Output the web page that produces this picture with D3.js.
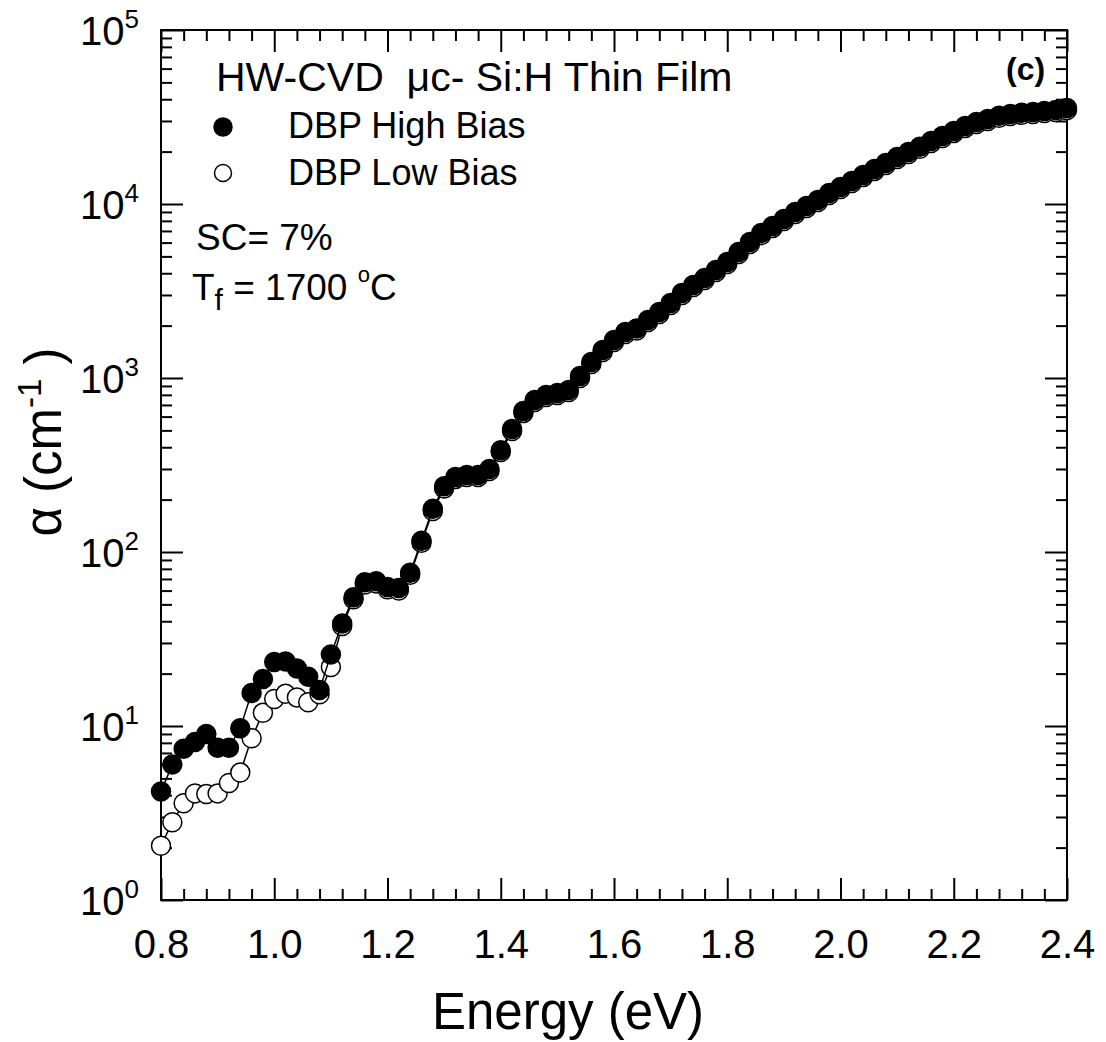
<!DOCTYPE html>
<html>
<head>
<meta charset="utf-8">
<script src="https://cdn.jsdelivr.net/npm/d3@7"></script>
<style>
  html, body { margin: 0; padding: 0; background: #fff; }
  svg { display: block; font-family: "Liberation Sans", Arial, Helvetica, sans-serif; }
</style>
</head>
<body>
<svg id="chart" width="1106" height="1042"></svg>
<script>
// ---- Data ----
const energy = [0.80,0.82,0.84,0.86,0.88,0.90,0.92,0.94,0.96,0.98,
  1.00,1.02,1.04,1.06,1.08,1.10,1.12,1.14,1.16,1.18,
  1.20,1.22,1.24,1.26,1.28,1.30,1.32,1.34,1.36,1.38,
  1.40,1.42,1.44,1.46,1.48,1.50,1.52,1.54,1.56,1.58,
  1.60,1.62,1.64,1.66,1.68,1.70,1.72,1.74,1.76,1.78,
  1.80,1.82,1.84,1.86,1.88,1.90,1.92,1.94,1.96,1.98,
  2.00,2.02,2.04,2.06,2.08,2.10,2.12,2.14,2.16,2.18,
  2.20,2.22,2.24,2.26,2.28,2.30,2.32,2.34,2.36,2.38,2.40];

const highBias = [4.2,6.0,7.4,8.1,9.0,7.5,7.5,9.7,15.5,18.6,
  23.3,23.5,21.4,19.2,16.1,25.8,38.8,55,67,68,
  63,62,76,116,177,239,270,277,277,300,
  385,509,646,747,799,820,853,1026,1236,1449,
  1653,1837,1925,2153,2394,2697,3080,3422,3756,4177,
  4645,5300,6050,6810,7480,8200,8990,9740,10540,11570,
  12520,13560,14690,15900,17200,18600,19900,21300,23000,24600,
  26300,28100,29600,30800,32100,32900,33400,33800,34200,34700,35600];

const lowBias = [2.05,2.8,3.6,4.1,4.06,4.1,4.7,5.4,8.5,11.9,
  14.3,15.3,14.6,13.7,15.2,21.8,37.5,53.5,65,66,
  61,60,74,113,172,232,263,270,270,292,
  375,496,630,728,778,799,831,1000,1204,1411,
  1610,1789,1875,2097,2332,2627,3000,3333,3658,4068,
  4524,5162,5893,6633,7286,7987,8756,9487,10270,11270,
  12190,13210,14310,15490,16750,18120,19380,20750,22400,23960,
  25620,27370,28830,30000,31270,32040,32530,32920,33310,33800,34670];

const xTickLabels = ["0.8","1.0","1.2","1.4","1.6","1.8","2.0","2.2","2.4"];
const xMajor = [0.8,1.0,1.2,1.4,1.6,1.8,2.0,2.2,2.4];
const yExponents = [0,1,2,3,4,5];
const seriesNames = ["DBP High Bias","DBP Low Bias"];

// ---- Layout ----
const L = 161, R = 1067, T = 30, B = 900;
const svg = d3.select("#chart");

const x = d3.scaleLinear().domain([0.8, 2.4]).range([L, R]);
const y = d3.scaleLog().domain([1, 1e5]).range([B, T]);

const xMinor = d3.range(0, 41).map(i => +(0.8 + i * 0.04).toFixed(2))
  .filter(v => xMajor.indexOf(v) < 0);
const yMajor = yExponents.map(e => Math.pow(10, e));
const yMinor = [];
for (let e = 0; e < 5; e++) for (let m = 2; m <= 9; m++) yMinor.push(m * Math.pow(10, e));

function styleAxis(g) {
  g.select(".domain").remove();
  g.selectAll(".tick line").attr("stroke", "#000").attr("stroke-width", 2);
}

// bottom axis
const gxb = svg.append("g").attr("transform", `translate(0,${B})`)
  .call(d3.axisBottom(x).tickValues(xMajor).tickSizeInner(-22).tickSizeOuter(0)
    .tickFormat((d, i) => xTickLabels[i]));
styleAxis(gxb);
gxb.selectAll(".tick text").attr("y", 58).attr("dy", 0)
  .attr("font-size", 40).attr("fill", "#000")
  .attr("font-family", "'Liberation Sans', Arial, sans-serif");
const gxbm = svg.append("g").attr("transform", `translate(0,${B})`)
  .call(d3.axisBottom(x).tickValues(xMinor).tickSizeInner(-11).tickSizeOuter(0).tickFormat(""));
styleAxis(gxbm);

// top axis
const gxt = svg.append("g").attr("transform", `translate(0,${T})`)
  .call(d3.axisTop(x).tickValues(xMajor).tickSizeInner(-22).tickSizeOuter(0).tickFormat(""));
styleAxis(gxt);
const gxtm = svg.append("g").attr("transform", `translate(0,${T})`)
  .call(d3.axisTop(x).tickValues(xMinor).tickSizeInner(-11).tickSizeOuter(0).tickFormat(""));
styleAxis(gxtm);

// left axis
const gyl = svg.append("g").attr("transform", `translate(${L},0)`)
  .call(d3.axisLeft(y).tickValues(yMajor).tickSizeInner(-22).tickSizeOuter(0).tickFormat(""));
styleAxis(gyl);
gyl.selectAll(".tick").each(function(d, i) {
  const t = d3.select(this).append("text")
    .attr("x", -22).attr("y", 14).attr("text-anchor", "end")
    .attr("fill", "#000").attr("font-size", 40)
    .attr("font-family", "'Liberation Sans', Arial, sans-serif");
  t.append("tspan").text("10");
  t.append("tspan").attr("dy", -17).attr("font-size", 26).text(String(yExponents[i]));
});
const gylm = svg.append("g").attr("transform", `translate(${L},0)`)
  .call(d3.axisLeft(y).tickValues(yMinor).tickSizeInner(-11).tickSizeOuter(0).tickFormat(""));
styleAxis(gylm);

// right axis
const gyr = svg.append("g").attr("transform", `translate(${R},0)`)
  .call(d3.axisRight(y).tickValues(yMajor).tickSizeInner(-22).tickSizeOuter(0).tickFormat(""));
styleAxis(gyr);
const gyrm = svg.append("g").attr("transform", `translate(${R},0)`)
  .call(d3.axisRight(y).tickValues(yMinor).tickSizeInner(-11).tickSizeOuter(0).tickFormat(""));
styleAxis(gyrm);

// frame
svg.append("rect").attr("x", L).attr("y", T).attr("width", R - L).attr("height", B - T)
  .attr("fill", "none").attr("stroke", "#000").attr("stroke-width", 2);

// ---- series ----
const line = d3.line().x(d => x(d[0])).y(d => y(d[1]));
const lowData = energy.map((e, i) => [e, lowBias[i]]);
const highData = energy.map((e, i) => [e, highBias[i]]);

const plot = svg.append("g");
plot.append("path").datum(lowData).attr("d", line)
  .attr("fill", "none").attr("stroke", "#000").attr("stroke-width", 1.5);
plot.append("g").selectAll("circle").data(lowData).join("circle")
  .attr("cx", d => x(d[0])).attr("cy", d => y(d[1])).attr("r", 9.5)
  .attr("fill", "#fff").attr("stroke", "#000").attr("stroke-width", 1.5);
plot.append("path").datum(highData).attr("d", line)
  .attr("fill", "none").attr("stroke", "#000").attr("stroke-width", 1.5);
plot.append("g").selectAll("circle").data(highData).join("circle")
  .attr("cx", d => x(d[0])).attr("cy", d => y(d[1])).attr("r", 9.5)
  .attr("fill", "#000").attr("stroke", "#000").attr("stroke-width", 1.5);

// ---- annotations ----
svg.append("text").attr("x", 216).attr("y", 91).attr("font-size", 41)
  .style("white-space", "pre").text("HW-CVD  \u03bcc- Si:H Thin Film");
svg.append("text").attr("x", 1006).attr("y", 80).attr("font-size", 32)
  .attr("font-weight", "bold").text("(c)");

// legend
svg.append("circle").attr("cx", 223).attr("cy", 127).attr("r", 9)
  .attr("fill", "#000").attr("stroke", "#000").attr("stroke-width", 1.5);
svg.append("circle").attr("cx", 223).attr("cy", 173).attr("r", 8.5)
  .attr("fill", "#fff").attr("stroke", "#000").attr("stroke-width", 1.5);
svg.append("text").attr("x", 288).attr("y", 138).attr("font-size", 36).text(seriesNames[0]);
svg.append("text").attr("x", 288).attr("y", 185).attr("font-size", 36).text(seriesNames[1]);

svg.append("text").attr("x", 196).attr("y", 250).attr("font-size", 37).text("SC= 7%");
const tf = svg.append("text").attr("x", 192).attr("y", 300).attr("font-size", 37)
  .style("white-space", "pre");
tf.append("tspan").text("T");
tf.append("tspan").attr("dy", 10).attr("font-size", 30).text("f");
tf.append("tspan").attr("dy", -10).text(" = 1700 ");
tf.append("tspan").attr("dy", -18).attr("font-size", 22).text("o");
tf.append("tspan").attr("dy", 18).text("C");

// axis titles
svg.append("text").attr("x", 568).attr("y", 1029).attr("text-anchor", "middle")
  .attr("font-size", 51).text("Energy (eV)");
const yl = svg.append("text").attr("transform", "translate(61,442) rotate(-90)")
  .attr("text-anchor", "middle").attr("font-size", 51).style("white-space", "pre");
yl.append("tspan").text("\u03b1 (cm");
yl.append("tspan").attr("dy", -20).attr("font-size", 33).text("-1");
yl.append("tspan").attr("dy", 20).text(" )");
</script>
</body>
</html>
